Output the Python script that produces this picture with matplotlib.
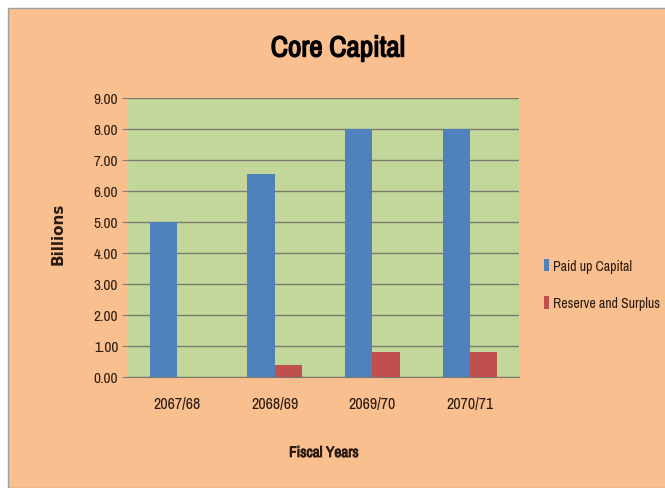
import numpy as np
import matplotlib
matplotlib.use("Agg")
import matplotlib.pyplot as plt
import matplotlib.patheffects as pe
from matplotlib.patches import Rectangle
from matplotlib import font_manager as fm

years = ["2067/68", "2068/69", "2069/70", "2070/71"]
paid_up = [5.00, 6.55, 8.00, 8.00]
reserve = [0.00, 0.40, 0.80, 0.80]
yticks = [0, 1, 2, 3, 4, 5, 6, 7, 8, 9]

names = sorted({f.name for f in fm.fontManager.ttflist})
narrow = [n for n in names if "Narrow" in n or "Condensed" in n]
FONT = (narrow[:1] if narrow else []) + ["DejaVu Sans"]
plt.rcParams["font.family"] = FONT
BG = "#F9BF8F"
PLOT = "#C4D79B"
BLUE, RED = "#4F81BD", "#C0504D"
TXT = "#2A1A10"

def heavy(w, c):
    # narrow font has no bold face here, so thicken strokes
    return [pe.withStroke(linewidth=w, foreground=c)]

fig = plt.figure(figsize=(6.65, 4.89), dpi=100)
fig.patch.set_facecolor("white")
fig.add_artist(Rectangle((8/665, 0), 1, 1 - 9/489, transform=fig.transFigure,
                         fc=BG, ec="#A0A0A0", lw=1.0, zorder=0))

ax = fig.add_axes([128/665, 1 - 378/489, 391/665, 279/489])
ax.set_facecolor(PLOT)
x = np.arange(len(years))
w = 0.28
ax.bar(x - w/2, paid_up, w, color=BLUE, label="Paid up Capital", zorder=3)
ax.bar(x + w/2, reserve, w, color=RED, label="Reserve and Surplus", zorder=3)
ax.set_xlim(-0.5, len(years) - 0.5)
ax.set_ylim(0, 9)
ax.set_yticks(yticks)
ax.set_yticklabels([f"{v:.2f}" for v in yticks], fontsize=11, color=TXT)
ax.set_xticks(x)
ax.set_xticklabels(years, fontsize=11.5, color=TXT)
ax.tick_params(axis="x", length=0, pad=14)
ax.tick_params(axis="y", length=4, color="#808080", pad=3)
ax.grid(axis="y", color="#7A7A6A", lw=1.0, zorder=1)
for s in ["top", "right", "left"]:
    ax.spines[s].set_visible(False)
ax.spines["bottom"].set_color("#7A7A6A")

fig.text(338/665, 1 - 49/489, "Core Capital", ha="center", va="center",
         fontsize=21, color="black", path_effects=heavy(1.0, "black"))
fig.text(58/665, 1 - 234/489, "Billions", ha="center", va="center", rotation=90,
         fontsize=11, fontweight="bold", family="DejaVu Sans", color=TXT)
fig.text(324/665, 1 - 454/489, "Fiscal Years", ha="center", va="center",
         fontsize=11, color=TXT, path_effects=heavy(0.6, TXT))

leg = fig.legend(loc="upper left", bbox_to_anchor=(538/665, 1 - 254/489), frameon=False,
                 fontsize=10, handlelength=0.4, handleheight=1.0, handletextpad=0.3,
                 labelspacing=1.7, borderaxespad=0)
for t in leg.get_texts():
    t.set_color(TXT)

fig.savefig("out.png", dpi=100, facecolor=fig.get_facecolor())
